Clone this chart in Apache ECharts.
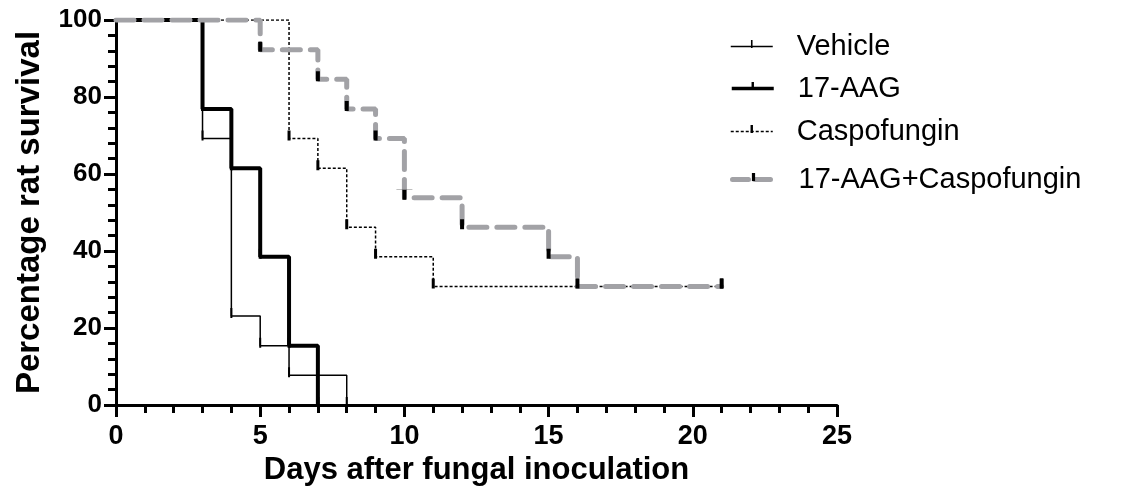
<!DOCTYPE html>
<html>
<head>
<meta charset="utf-8">
<script src="https://cdn.jsdelivr.net/npm/echarts@6/dist/echarts.min.js"></script>
<style>
  html, body { margin: 0; padding: 0; background: #fff; }
  #main { width: 1122px; height: 494px; }
</style>
</head>
<body>
<div id="main"></div>
<script>
// Kaplan-Meier steps: day of each death and survival after it (%)
const vehicleDays = [0, 3, 4, 5, 6, 8];
const vehicleSurv = [100, 69.2, 23.1, 15.4, 7.7, 0];

const aagDays = [0, 3, 4, 5, 6, 7];
const aagSurv = [100, 76.9, 61.5, 38.5, 15.4, 0];

const caspoDays = [0, 6, 7, 8, 9, 11, 21];
const caspoSurv = [100, 69.2, 61.5, 46.2, 38.5, 30.8, 30.8];

const comboDays = [0, 5, 7, 8, 9, 10, 12, 15, 16, 21];
const comboSurv = [100, 92.3, 84.6, 76.9, 69.2, 53.8, 46.2, 38.5, 30.8, 30.8];

const seriesNames = ['Vehicle', '17-AAG', 'Caspofungin', '17-AAG+Caspofungin'];
const legendTops = [27, 69, 112, 160];

// first point has no tick mark, the rest get the small vertical tick
function points(days, surv) {
  return days.map((d, i) => i === 0 ? { value: [d, surv[i]], symbol: 'none' } : [d, surv[i]]);
}

// vertical tick sitting mostly above the line, inside a square 16x16 box
// (hairline slivers keep the box square so the legend does not squash it)
function tickPath(w) {
  const a = 8 - w / 2, b = 8 + w / 2;
  return 'path://M0,0L16,0L16,0.01L0,0.01Z' +
    'M' + a + ',0L' + b + ',0L' + b + ',10L' + a + ',10Z' +
    'M8,16L8.01,16L8.01,15.99Z';
}

const chart = echarts.init(document.getElementById('main'));
const font = 'Liberation Sans, Arial, sans-serif';

function km(name, days, surv, line, tickW) {
  return {
    name: name,
    type: 'line',
    step: 'end',
    data: points(days, surv),
    symbol: tickPath(tickW),
    symbolSize: 16,
    showAllSymbol: true,
    itemStyle: { color: '#000' },
    lineStyle: line,
    emphasis: { disabled: true }
  };
}

const lineStyles = [
  { color: '#000', width: 1.5 },
  { color: '#000', width: 4 },
  { color: '#000', width: 1.5, type: [3, 2] },
  { color: '#a2a2a6', width: 5, type: [18, 10], cap: 'round' }
];
const legendLines = [
  { width: 1.5 },
  { width: 3.5 },
  { width: 1.5, type: [3, 2] },
  { width: 5, type: [16, 6] }
];

const option = {
  animation: false,
  grid: { left: 116, top: 20, width: 721, height: 385 },
  legend: seriesNames.map((n, i) => ({
    data: [{ name: n, lineStyle: legendLines[i] }],
    left: 725,
    top: legendTops[i],
    itemWidth: 42,
    itemHeight: 16,
    selectedMode: false,
    textStyle: { fontFamily: font, fontSize: 29, color: '#000', padding: [0, 0, 0, 19] }
  })),
  xAxis: {
    type: 'value',
    min: 0,
    max: 25,
    interval: 5,
    name: 'Days after fungal inoculation',
    nameLocation: 'middle',
    nameGap: 50,
    nameTextStyle: { fontFamily: font, fontSize: 31, fontWeight: 'bold', color: '#000' },
    axisLine: { lineStyle: { color: '#000', width: 3 } },
    axisTick: { length: 12, lineStyle: { width: 3 } },
    minorTick: { show: true, splitNumber: 5, length: 8, lineStyle: { color: '#000', width: 3 } },
    axisLabel: { fontFamily: font, fontSize: 27, fontWeight: 'bold', color: '#000', margin: 18 },
    splitLine: { show: false }
  },
  yAxis: {
    type: 'value',
    min: 0,
    max: 100,
    interval: 20,
    name: 'Percentage rat survival',
    nameLocation: 'middle',
    nameGap: 70,
    nameTextStyle: { fontFamily: font, fontSize: 33, fontWeight: 'bold', color: '#000' },
    axisLine: { lineStyle: { color: '#000', width: 3 } },
    axisTick: { length: 12, lineStyle: { width: 3 } },
    minorTick: { show: true, splitNumber: 5, length: 8, lineStyle: { color: '#000', width: 3 } },
    axisLabel: { fontFamily: font, fontSize: 26, fontWeight: 'bold', color: '#000', margin: 14 },
    splitLine: { show: false }
  },
  series: [
    km(seriesNames[0], vehicleDays, vehicleSurv, lineStyles[0], 2),
    km(seriesNames[1], aagDays, aagSurv, lineStyles[1], 3),
    km(seriesNames[2], caspoDays, caspoSurv, lineStyles[2], 3),
    km(seriesNames[3], comboDays, comboSurv, lineStyles[3], 4)
  ]
};

chart.setOption(option);
</script>
</body>
</html>
